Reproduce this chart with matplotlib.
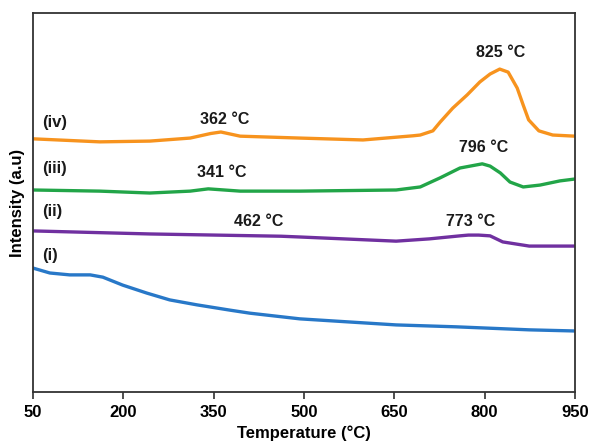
import matplotlib
matplotlib.use("Agg")
import matplotlib.pyplot as plt

plt.rcParams['font.family'] = ['Liberation Sans', 'DejaVu Sans']

# TPR traces, temperature in C and intensity in arbitrary units
temp_iv = [50, 161, 244, 311, 345, 362, 394, 493, 598, 681, 693, 714, 726, 747, 771, 792, 809,
           825, 839, 854, 864, 873, 890, 913, 950]
int_iv = [66.8, 66.0, 66.2, 67.0, 68.2, 68.6, 67.5, 67.0, 66.5, 67.6, 67.8, 68.9, 71.2, 74.9, 78.4, 81.8, 83.9,
          85.2, 84.4, 80.2, 75.7, 71.8, 68.9, 67.8, 67.5]

temp_iii = [50, 161, 244, 311, 341, 394, 493, 653, 693, 726, 759, 796, 809, 826, 842, 864, 892, 925, 950]
int_iii = [53.3, 53.0, 52.5, 53.0, 53.6, 53.0, 53.0, 53.3, 54.1, 56.5, 59.1, 60.2, 59.6, 57.8, 55.4, 54.1, 54.6, 55.7, 56.2]

temp_ii = [50, 244, 462, 493, 653, 708, 759, 773, 790, 809, 830, 874, 950]
int_ii = [42.5, 41.7, 41.1, 40.9, 39.8, 40.4, 41.2, 41.4, 41.4, 41.2, 39.6, 38.5, 38.5]

temp_i = [50, 78, 111, 145, 166, 199, 239, 277, 322, 377, 410, 493, 653, 752, 874, 950]
int_i = [32.7, 31.4, 30.9, 30.9, 30.3, 28.2, 26.1, 24.3, 23.0, 21.6, 20.8, 19.3, 17.7, 17.2, 16.4, 16.1]

series = [
    ("(iv)", temp_iv, int_iv, "#f7931e", 71.2),
    ("(iii)", temp_iii, int_iii, "#22a548", 59.1),
    ("(ii)", temp_ii, int_ii, "#7030a0", 47.5),
    ("(i)", temp_i, int_i, "#2878c8", 36.1),
]

# peak annotations: text, x, y
peaks = [
    ("362 °C", 369, 71.8),
    ("341 °C", 364, 57.8),
    ("462 °C", 424, 45.1),
    ("825 °C", 827, 89.7),
    ("796 °C", 799, 64.4),
    ("773 °C", 776, 45.1),
]

xticks = [50, 200, 350, 500, 650, 800, 950]

fig = plt.figure(figsize=(5.92, 4.48), dpi=100)
ax = fig.add_axes([0.0557, 0.125, 0.9156, 0.846])

for name, t, y, c, ly in series:
    ax.plot(t, y, color=c, lw=2.4, solid_joinstyle='round')
    ax.text(66, ly, name, fontsize=12, fontweight='bold', ha='left', va='center', color='#1a1a1a')

for txt, x, y in peaks:
    ax.text(x, y, txt, fontsize=11.5, fontweight='bold', ha='center', va='center', color='#1a1a1a')

ax.set_xlim(50, 950)
ax.set_ylim(0, 100)
ax.set_xticks(xticks)
ax.set_xticklabels([str(v) for v in xticks], fontsize=12, fontweight='bold')
ax.set_yticks([])
ax.tick_params(axis='x', direction='out', length=5, width=1.3, color='#404040', pad=4)

for s in ax.spines.values():
    s.set_color('#333333')
    s.set_linewidth(1.3)

ax.set_xlabel("Temperature (°C)", fontsize=12, fontweight='bold', labelpad=4)
ax.set_ylabel("Intensity (a.u)", fontsize=12, fontweight='bold', labelpad=6)

fig.savefig("out.png", dpi=100)
